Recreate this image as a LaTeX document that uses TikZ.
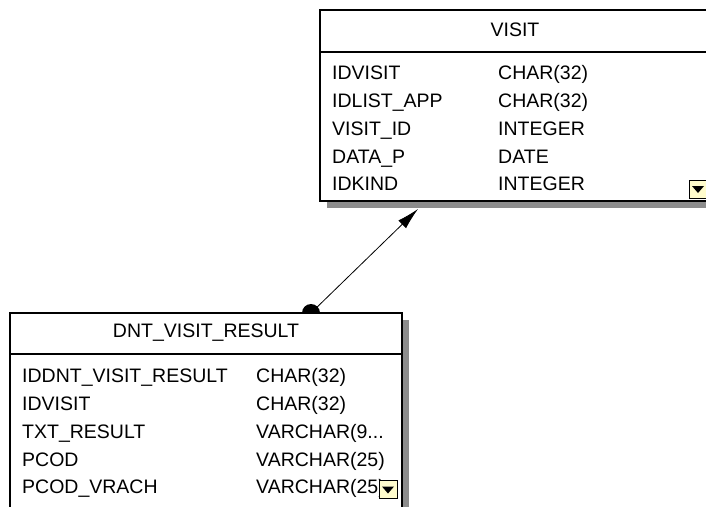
\documentclass[tikz,border=0pt]{standalone}
\usepackage{fontspec}
\setmainfont{Liberation Sans}
\usetikzlibrary{positioning, arrows.meta, calc}

\begin{document}
\begin{tikzpicture}[
  x=1pt, y=-1pt,
  >={Latex[length=22pt, width=11pt]},
  tbl/.style={draw, line width=1.5pt, fill=white, inner sep=0pt, outer sep=0pt, anchor=north west},
  shade/.style={fill=black!45, draw=none, inner sep=0pt, outer sep=0pt, anchor=north west},
  title/.style={font=\fontsize{19.5}{22}\selectfont, inner sep=0pt},
  fld/.style={font=\fontsize{19.5}{22}\selectfont, inner sep=0pt, anchor=base west},
  drop/.style={draw, line width=1pt, fill=yellow!20, minimum size=18pt, inner sep=0pt},
]
  \useasboundingbox (0,0) rectangle (706,506);
  \clip (0,0) rectangle (706,506);
  \fill[white] (0,0) rectangle (706,506);

  % VISIT table
  \node[shade, minimum width=410pt, minimum height=191pt] (visit-sh) at (327,17) {};
  \node[tbl, minimum width=410pt, minimum height=191pt] (visit) at (320,10) {};
  \draw[line width=1.5pt] ($(visit.north west)+(0,42)$) -- ($(visit.north east)+(0,42)$);
  \node[title] (visit-title) at (515,30) {VISIT};
  \node[fld] (visit-n1) at (332,79) {IDVISIT};
  \node[fld] (visit-t1) at (498,79) {CHAR(32)};
  \node[fld] (visit-n2) at (332,107) {IDLIST\_APP};
  \node[fld] (visit-t2) at (498,107) {CHAR(32)};
  \node[fld] (visit-n3) at (332,135) {VISIT\_ID};
  \node[fld] (visit-t3) at (498,135) {INTEGER};
  \node[fld] (visit-n4) at (332,163) {DATA\_P};
  \node[fld] (visit-t4) at (498,163) {DATE};
  \node[fld] (visit-n5) at (332,190) {IDKIND};
  \node[fld] (visit-t5) at (498,190) {INTEGER};
  \node[drop] (visit-drop) at (698,189) {};
  \fill ($(visit-drop.center)+(-6,-3)$) -- ++(12,0) -- ++(-6,7) -- cycle;

  % DNT_VISIT_RESULT table
  \node[shade, minimum width=392pt, minimum height=210pt] (dnt-sh) at (17,320) {};
  \node[tbl, minimum width=392pt, minimum height=210pt] (dnt) at (10,313) {};
  \draw[line width=1.5pt] ($(dnt.north west)+(0,41)$) -- ($(dnt.north east)+(0,41)$);
  \node[title] (dnt-title) at ($(dnt.north)+(0,20)$) {DNT\_VISIT\_RESULT};
  \node[fld] (dnt-n1) at (22,382) {IDDNT\_VISIT\_RESULT};
  \node[fld] (dnt-t1) at (256,382) {CHAR(32)};
  \node[fld] (dnt-n2) at (22,410) {IDVISIT};
  \node[fld] (dnt-t2) at (256,410) {CHAR(32)};
  \node[fld] (dnt-n3) at (22,438) {TXT\_RESULT};
  \node[fld] (dnt-t3) at (256,438) {VARCHAR(9...};
  \node[fld] (dnt-n4) at (22,466) {PCOD};
  \node[fld] (dnt-t4) at (256,466) {VARCHAR(25)};
  \node[fld] (dnt-n5) at (22,493) {PCOD\_VRACH};
  \node[fld] (dnt-t5) at (256,493) {VARCHAR(25)};
  \node[drop] (dnt-drop) at (388,489.5) {};
  \fill ($(dnt-drop.center)+(-6,-3)$) -- ++(12,0) -- ++(-6,7) -- cycle;

  % relation
  \coordinate (dnt-ref) at ($(dnt.north west)+(301,0)$);
  \coordinate (visit-ref) at ($(visit.south west)+(98,8)$);
  \draw[->, line width=0.8pt] (dnt-ref) -- (visit-ref);
  \fill ($(dnt-ref)+(-9,0)$) arc[start angle=180, end angle=0, radius=9pt] -- cycle;
\end{tikzpicture}
\end{document}
